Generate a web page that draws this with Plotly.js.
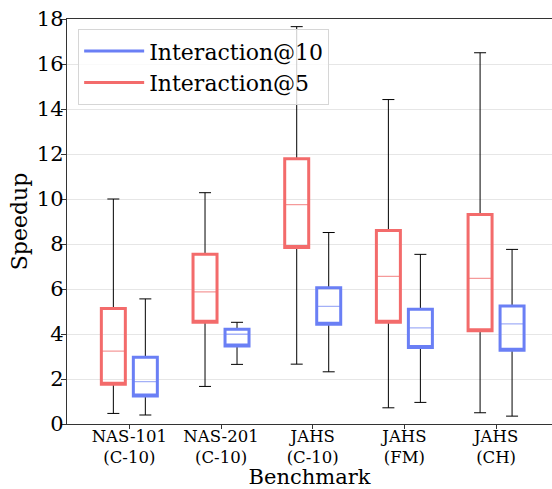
<!DOCTYPE html>
<html>
<head>
<meta charset="utf-8">
<script src="https://cdn.plot.ly/plotly-3.0.1.min.js"></script>
<style>html,body{margin:0;padding:0;background:#fff;}#chart{width:552px;height:489px;}</style>
</head>
<body>
<div id="chart"></div>
<script>
const categories = ['NAS-101<br>(C-10)', 'NAS-201<br>(C-10)', 'JAHS<br>(C-10)', 'JAHS<br>(FM)', 'JAHS<br>(CH)'];

// Interaction@5 (red)
const i5Lower  = [0.47, 1.67, 2.66, 0.72, 0.50];
const i5Q1     = [1.77, 4.52, 7.85, 4.52, 4.15];
const i5Median = [3.24, 5.87, 9.75, 6.56, 6.47];
const i5Q3     = [5.13, 7.54, 11.79, 8.60, 9.31];
const i5Upper  = [10.00, 10.28, 17.66, 14.42, 16.50];

// Interaction@10 (blue)
const i10Lower  = [0.40, 2.65, 2.32, 0.96, 0.35];
const i10Q1     = [1.24, 3.47, 4.43, 3.40, 3.28];
const i10Median = [1.88, 3.99, 5.23, 4.27, 4.45];
const i10Q3     = [2.97, 4.21, 6.06, 5.10, 5.25];
const i10Upper  = [5.56, 4.52, 8.51, 7.54, 7.76];

const yTicks = [0, 2, 4, 6, 8, 10, 12, 14, 16, 18];

const FONT = 'DejaVu Serif';

function seriesTraces(name, group, lower, q1, med, q3, upper, color, light) {
  const base = {type: 'box', x: categories, offsetgroup: group, alignmentgroup: 'a',
    boxpoints: false, showlegend: false, hoverinfo: 'skip', whiskerwidth: 0.5,
    fillcolor: 'rgba(0,0,0,0)'};
  return [
    // whiskers (black)
    Object.assign({}, base, {name: name, q1: q1, median: q1, q3: q3,
      lowerfence: lower, upperfence: upper, line: {color: '#000', width: 1}}),
    // thin median
    Object.assign({}, base, {name: name, q1: q1, median: med, q3: q3,
      lowerfence: q1, upperfence: q3, line: {color: light, width: 1.3}}),
    // thick box outline
    Object.assign({}, base, {name: name, q1: q1, median: q1, q3: q3,
      lowerfence: q1, upperfence: q3, line: {color: color, width: 3}})
  ];
}

const RED = '#f36b6b', RED_L = '#f59a9a';
const BLUE = '#6a7ff5', BLUE_L = '#a3b0f7';

const data = []
  .concat(seriesTraces('Interaction@5', 'r', i5Lower, i5Q1, i5Median, i5Q3, i5Upper, RED, RED_L))
  .concat(seriesTraces('Interaction@10', 'b', i10Lower, i10Q1, i10Median, i10Q3, i10Upper, BLUE, BLUE_L))
  .concat([
    {type: 'scatter', mode: 'lines', x: [null], y: [null], name: 'Interaction@10',
     line: {color: BLUE, width: 3}, showlegend: true},
    {type: 'scatter', mode: 'lines', x: [null], y: [null], name: 'Interaction@5',
     line: {color: RED, width: 3}, showlegend: true}
  ]);

const layout = {
  width: 552, height: 489,
  margin: {l: 67, r: 0, t: 19, b: 65},
  paper_bgcolor: '#fff', plot_bgcolor: '#fff',
  font: {family: FONT, color: '#000'},
  boxmode: 'group', boxgap: 0.302, boxgroupgap: 0.25,
  showlegend: true,
  legend: {x: 0.023, y: 0.975, xanchor: 'left', yanchor: 'top', itemwidth: 60,
    bgcolor: 'rgba(255,255,255,0.8)', bordercolor: '#d6d6d6', borderwidth: 1,
    font: {family: FONT, size: 22, color: '#000'}, traceorder: 'normal'},
  xaxis: {type: 'category', categoryorder: 'array', categoryarray: categories,
    range: [-0.68, 4.61], showgrid: false, zeroline: false,
    showline: true, linecolor: '#333', linewidth: 1.2, mirror: true,
    ticks: 'outside', ticklen: 4, tickcolor: '#333', ticklabelstandoff: -7,
    tickfont: {family: FONT, size: 16.5, color: '#000'},
    title: {text: 'Benchmark', font: {family: FONT, size: 21, color: '#000'}, standoff: 8}},
  yaxis: {range: [0, 18], tickvals: yTicks, ticktext: yTicks.map(String),
    showgrid: true, gridcolor: '#e6e6e6', gridwidth: 1, zeroline: false,
    showline: true, linecolor: '#333', linewidth: 1.2,
    ticks: 'outside', ticklen: 5, tickcolor: '#333', ticklabelstandoff: -7,
    tickfont: {family: FONT, size: 21, color: '#000'},
    title: {text: 'Speedup', font: {family: FONT, size: 22, color: '#000'}, standoff: 3}}
};

Plotly.newPlot('chart', data, layout, {staticPlot: true, displayModeBar: false});
</script>
</body>
</html>
